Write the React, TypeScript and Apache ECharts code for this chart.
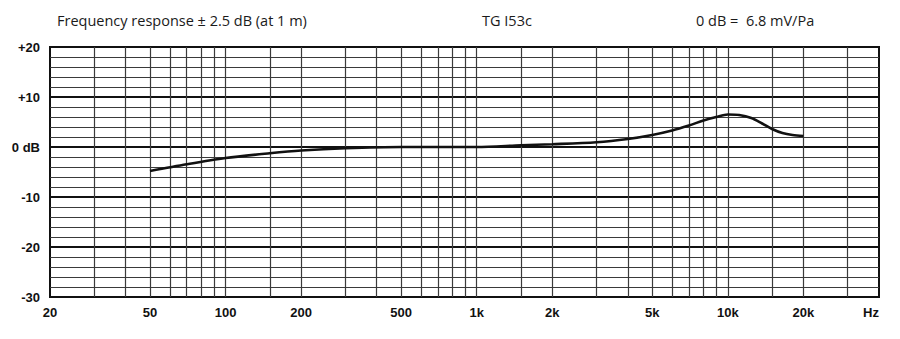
import React, { useEffect, useRef } from 'react';
import * as echarts from 'echarts';

// Frequency response curve
const freqHz = [50, 70, 100, 150, 200, 300, 500, 1000, 1500, 2000, 3000, 4000, 5000, 6000, 7000, 8000, 9000, 10000, 11100, 12400, 13700, 15000, 16500, 18100, 20000];
const levelDb = [-4.8, -3.45, -2.2, -1.25, -0.7, -0.25, 0, 0, 0.35, 0.55, 0.95, 1.6, 2.4, 3.3, 4.3, 5.3, 6.0, 6.5, 6.4, 5.8, 4.7, 3.6, 2.8, 2.4, 2.2];

// Vertical grid lines
const gridFreqs = [30, 40, 50, 60, 70, 80, 90, 100, 150, 200, 300, 400, 500, 600, 700, 800, 900, 1000, 1500, 2000, 3000, 4000, 5000, 6000, 7000, 8000, 9000, 10000, 15000, 20000, 30000];

// Axis labels
const xTickValues = [20, 50, 100, 200, 500, 1000, 2000, 5000, 10000, 20000, 40000];
const xTickLabels = ['20', '50', '100', '200', '500', '1k', '2k', '5k', '10k', '20k', 'Hz'];
const yTickValues = [20, 10, 0, -10, -20, -30];
const yTickLabels = ['+20', '+10', '0 dB', '-10', '-20', '-30'];

const headerLeft = 'Frequency response ± 2.5 dB (at 1 m)';
const headerMid = 'TG I53c';
const headerRight = '0 dB =  6.8 mV/Pa';

export default function App() {
  const ref = useRef<HTMLDivElement>(null);
  useEffect(() => {
    if (!ref.current) return;
    const chart = echarts.init(ref.current, undefined, { renderer: 'svg' });
    const headFont = '14.5px "Open Sans", "Noto Sans", sans-serif';
    chart.setOption({
      animation: false,
      backgroundColor: '#ffffff',
      grid: {
        left: 50, right: 21, top: 47, bottom: 42,
        show: true, borderColor: '#111', borderWidth: 2, backgroundColor: 'transparent'
      },
      xAxis: {
        type: 'log', logBase: 10, min: 20, max: 40000,
        axisLine: { show: false },
        axisTick: { show: false },
        splitLine: { show: false },
        axisLabel: {
          customValues: xTickValues,
          margin: 9,
          color: '#111',
          fontFamily: '"Liberation Sans", Arial, sans-serif',
          fontWeight: 'bold',
          fontSize: 13,
          showMinLabel: true,
          showMaxLabel: true,
          formatter: (v: number) => {
            const i = xTickValues.findIndex((t) => Math.abs(t - v) / t < 1e-6);
            if (i < 0) return '';
            if (xTickLabels[i] === 'Hz') return '{hz|Hz}';
            return xTickLabels[i];
          },
          rich: {
            hz: {
              padding: [0, 16, 0, 0], fontWeight: 'bold', fontSize: 13, color: '#111',
              fontFamily: '"Liberation Sans", Arial, sans-serif'
            }
          }
        }
      },
      yAxis: {
        type: 'value', min: -30, max: 20, interval: 10,
        axisLine: { show: false },
        axisTick: { show: false },
        axisLabel: {
          margin: 10,
          color: '#111',
          fontFamily: '"Liberation Sans", Arial, sans-serif',
          fontWeight: 'bold',
          fontSize: 13,
          formatter: (v: number) => {
            const i = yTickValues.indexOf(v);
            return i >= 0 ? yTickLabels[i] : '';
          }
        },
        splitLine: { show: true, lineStyle: { color: '#111', width: 2 } },
        minorTick: { show: false, splitNumber: 5 },
        minorSplitLine: { show: true, lineStyle: { color: '#3a3a3a', width: 1 } }
      },
      series: [
        {
          type: 'line',
          z: 3,
          data: freqHz.map((f, i) => [f, levelDb[i]]),
          showSymbol: false,
          smooth: 0.3,
          lineStyle: { color: '#111', width: 2.6 },
          markLine: {
            silent: true,
            z: 1,
            symbol: ['none', 'none'],
            label: { show: false },
            lineStyle: { color: '#3a3a3a', width: 1.2, type: 'solid' },
            emphasis: { disabled: true },
            data: gridFreqs.map((f) => ({ xAxis: f }))
          }
        }
      ],
      graphic: [
        { type: 'text', left: 57, top: 13, style: { text: headerLeft, font: headFont, fill: '#1a1a1a' } },
        { type: 'text', left: 482, top: 13, style: { text: headerMid, font: headFont, fill: '#1a1a1a' } },
        { type: 'text', left: 696, top: 13, style: { text: headerRight, font: headFont, fill: '#1a1a1a' } }
      ]
    });
    return () => chart.dispose();
  }, []);
  return (
    <div
      ref={ref}
      style={{ position: 'fixed', left: 0, top: 0, width: 900, height: 339, background: '#fff' }}
    />
  );
}
